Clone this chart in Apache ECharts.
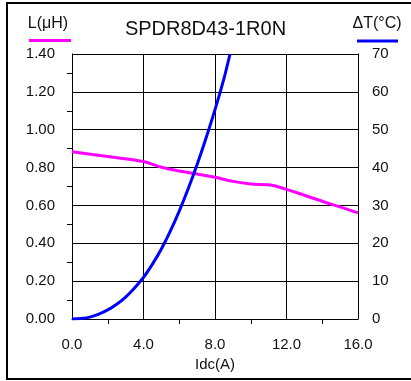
<!DOCTYPE html>
<html>
<head>
<meta charset="utf-8">
<script src="https://cdn.jsdelivr.net/npm/echarts@6/dist/echarts.min.js"></script>
<style>
html,body{margin:0;padding:0;background:#fff;}
#c{width:411px;height:381px;}
</style>
</head>
<body>
<div id="c"></div>
<script>
const titleText = 'SPDR8D43-1R0N';
const xName = 'Idc(A)';
const leftName = 'L(μH)';
const rightName = 'ΔT(°C)';
const inductance = [[0,0.883],[2,0.858],[4,0.832],[5,0.802],[6,0.782],[7,0.766],[8,0.749],[9,0.727],[10,0.713],[11,0.709],[12,0.685],[13,0.654],[14,0.622],[15,0.592],[16,0.561]];
const tempRise = [[0,0],[0.5,0.15],[1,0.5],[1.5,1.3],[2,2.4],[2.5,3.9],[3,5.8],[3.5,8.2],[4,11],[4.5,14.5],[5,18.5],[5.5,23.2],[6,28.5],[6.5,34.4],[7,40.8],[7.5,47.8],[8,55.3],[8.5,63.5],[8.84,70]];

const font = 'Liberation Sans, Arial, sans-serif';
const chart = echarts.init(document.getElementById('c'));
chart.setOption({
  animation: false,
  backgroundColor: '#fff',
  title: {
    text: titleText, left: 'center', top: 14,
    textStyle: {fontFamily: font, fontSize: 20, fontWeight: 'normal', color: '#111'}
  },
  grid: {left: 72, right: 53, top: 54, bottom: 62},
  xAxis: {
    type: 'value', min: 0, max: 16, interval: 4,
    name: xName, nameLocation: 'middle', nameGap: 32,
    nameTextStyle: {fontFamily: font, fontSize: 15, color: '#111'},
    axisLine: {show: true, lineStyle: {color: '#000', width: 1}},
    axisTick: {show: false},
    minorTick: {show: true, splitNumber: 2, length: 5, lineStyle: {color: '#000'}},
    axisLabel: {fontFamily: font, fontSize: 15, color: '#111', margin: 18, formatter: v => v.toFixed(1)},
    splitLine: {show: true, lineStyle: {color: '#000', width: 1}}
  },
  yAxis: [{
    type: 'value', min: 0, max: 1.4, interval: 0.2, position: 'left',
    name: leftName, nameLocation: 'end', nameGap: 14,
    nameTextStyle: {fontFamily: font, fontSize: 16, color: '#111', align: 'center', padding: [0, 0, 8, -48]},
    axisLine: {show: true, lineStyle: {color: '#000'}},
    axisTick: {show: false},
    minorTick: {show: true, splitNumber: 2, length: 5, lineStyle: {color: '#000'}},
    axisLabel: {fontFamily: font, fontSize: 15, color: '#111', margin: 17, formatter: v => v.toFixed(2)},
    splitLine: {show: true, lineStyle: {color: '#000', width: 1}}
  }, {
    type: 'value', min: 0, max: 70, interval: 10, position: 'right',
    name: rightName, nameLocation: 'end', nameGap: 14,
    nameTextStyle: {fontFamily: font, fontSize: 16, color: '#111', align: 'center', padding: [0, 0, 8, 38]},
    axisLine: {show: true, lineStyle: {color: '#000'}},
    axisTick: {show: false},
    axisLabel: {fontFamily: font, fontSize: 15, color: '#111', margin: 14},
    splitLine: {show: false}
  }],
  series: [{
    name: leftName, type: 'line', yAxisIndex: 0, data: inductance, smooth: 0.4,
    showSymbol: false, lineStyle: {color: '#ff00ff', width: 3}, z: 3
  }, {
    name: rightName, type: 'line', yAxisIndex: 1, data: tempRise, smooth: 0.3,
    showSymbol: false, lineStyle: {color: '#0000ff', width: 3}, z: 4
  }],
  graphic: [
    {type: 'line', shape: {x1: 29, y1: 40.5, x2: 71, y2: 40.5}, style: {stroke: '#ff00ff', lineWidth: 3}},
    {type: 'line', shape: {x1: 357, y1: 41, x2: 398, y2: 41}, style: {stroke: '#0000ff', lineWidth: 3}},
    {type: 'polyline', shape: {points: [[411, 3], [7, 3], [7, 379], [411, 379]]}, style: {stroke: '#000', lineWidth: 2, fill: null}}
  ]
});
</script>
</body>
</html>
